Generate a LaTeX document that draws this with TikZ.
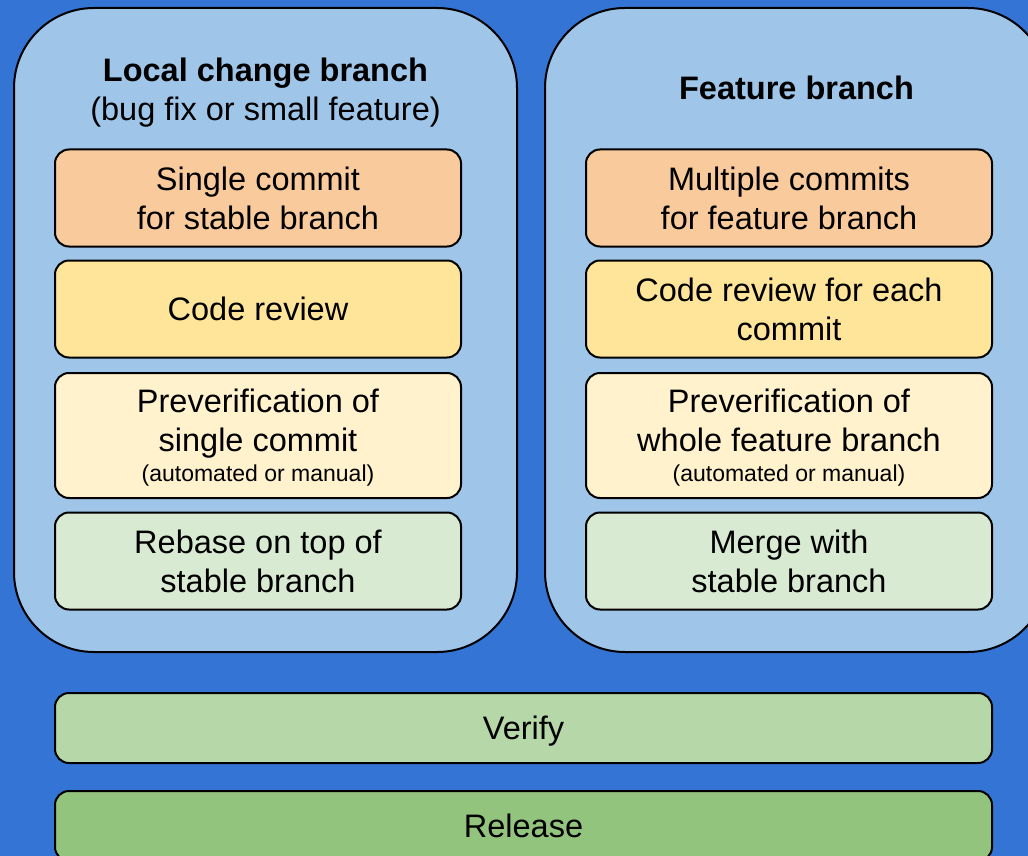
\documentclass[tikz,border=0pt]{standalone}
\usepackage{fontspec}
\setmainfont{Liberation Sans}
\usepackage{xcolor}

\definecolor{bgblue}{HTML}{3474D4}
\definecolor{panelblue}{HTML}{9FC5E8}
\definecolor{commitorange}{HTML}{F9CB9C}
\definecolor{reviewyellow}{HTML}{FFE599}
\definecolor{preverifyellow}{HTML}{FFF2CC}
\definecolor{mergegreen}{HTML}{D9EAD3}
\definecolor{verifygreen}{HTML}{B6D7A8}
\definecolor{releasegreen}{HTML}{93C47D}

\newcommand{\bigtxt}{\fontsize{32.5}{38.5}\selectfont}
\newcommand{\smalltxt}{\fontsize{23}{28}\selectfont}

\tikzset{
  panel/.style={draw, line width=2pt, fill=panelblue, rounded corners=80pt,
    minimum width=503pt, minimum height=644pt, inner sep=0pt},
  paneltitle/.style={align=center, font=\bigtxt, text depth=0pt, inner sep=0pt},
  stepbox/.style={draw, line width=2pt, rounded corners=14pt, align=center,
    minimum width=406pt, minimum height=97pt, inner sep=0pt, font=\bigtxt,
    text depth=0pt},
  widebox/.style={stepbox, minimum width=937pt, minimum height=70pt}
}

\begin{document}
\begin{tikzpicture}[x=1pt, y=-1pt]
			% Background
			\useasboundingbox (0,0) rectangle (1028,856);
			\clip (0,0) rectangle (1028,856);
			\fill[bgblue] (0,0) rectangle (1028,856);

			% Branch panels
			\node[panel] (localpanel) at (265.5,330) {};
			\node[panel] (featurepanel) at (796.5,330) {};

			% Panel titles
			\node[paneltitle] (localtitle) at (265.5,89)
				{\textbf{Local change branch}\\(bug fix or small feature)};
			\node[paneltitle] (featuretitle) at (796.5,88) {\textbf{Feature branch}};

			% Local change steps
			\node[stepbox, fill=commitorange] (localcommit) at (258,198) {Single commit\\for stable branch};
			\node[stepbox, fill=reviewyellow] (localreview) at (258,309) {Code review};
			\node[stepbox, fill=preverifyellow, minimum height=125pt] (localpre) at (258,435.5)
				{Preverification of\\single commit\\[-8pt]{\smalltxt (automated or manual)}};
			\node[stepbox, fill=mergegreen] (localrebase) at (258,561) {Rebase on top of\\stable branch};

			% Feature steps
			\node[stepbox, fill=commitorange] (featcommit) at (789,198) {Multiple commits\\for feature branch};
			\node[stepbox, fill=reviewyellow] (featreview) at (789,309) {Code review for each\\commit};
			\node[stepbox, fill=preverifyellow, minimum height=125pt] (featpre) at (789,435.5)
				{Preverification of\\whole feature branch\\[-8pt]{\smalltxt (automated or manual)}};
			\node[stepbox, fill=mergegreen] (featmerge) at (789,561) {Merge with\\stable branch};

			% Common steps
			\node[widebox, fill=verifygreen] (verify) at (523.5,728) {Verify};
			\node[widebox, fill=releasegreen] (release) at (523.5,826) {Release};
\end{tikzpicture}
\end{document}
